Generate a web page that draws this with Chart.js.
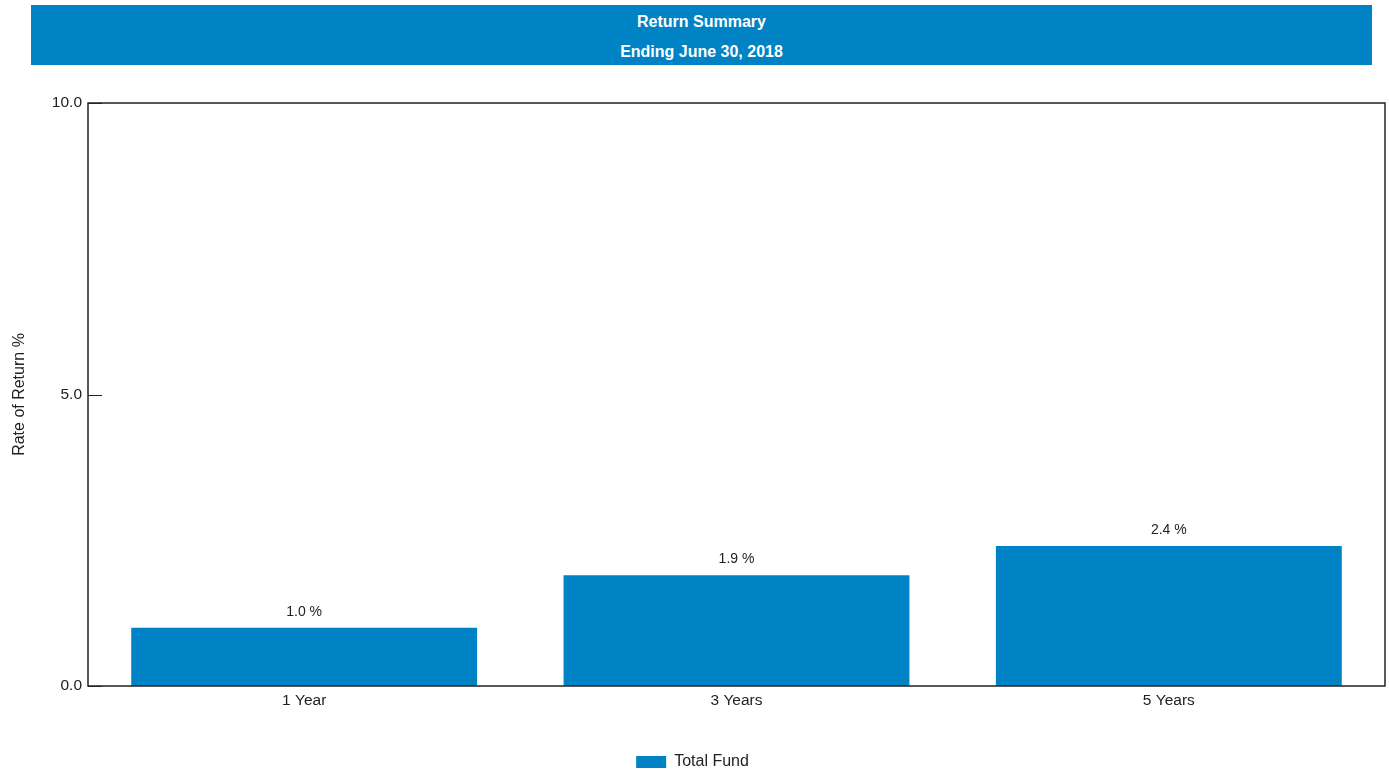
<!DOCTYPE html>
<html>
<head>
<meta charset="utf-8">
<script src="https://cdn.jsdelivr.net/npm/chart.js@4"></script>
<style>
    html, body { margin: 0; padding: 0; background: #fff; }
    #wrap { position: relative; width: 1389px; height: 771px; }
    #band {
        position: absolute; left: 31px; top: 5px; width: 1341px; height: 60px;
        background: #0083c4; color: #fff; text-align: center;
        font-family: "Liberation Sans", Arial, sans-serif; font-weight: bold; font-size: 16px;
    }
    #band div { position: absolute; left: 0; right: 0; }
    canvas { position: absolute; left: 0; top: 0; }
</style>
</head>
<body>
<div id="wrap">
    <canvas id="returnChart" width="1389" height="771"></canvas>
    <div id="band">
        <div style="top:8px;">Return Summary</div>
        <div style="top:38px;">Ending June 30, 2018</div>
    </div>
</div>
<script>
// chart data
const periods = ['1 Year', '3 Years', '5 Years'];
const totalFund = [1.0, 1.9, 2.4];
const yTicks = [0, 5, 10];

const BLUE = '#0083c4';
const FONT = "'Liberation Sans', Arial, sans-serif";

// box round the plot area plus short inward ticks on the y axis
const frameBox = {
    id: 'frameBox',
    afterDraw(chart) {
        const { ctx, chartArea: a } = chart;
        const y = chart.scales.y;
        ctx.save();
        ctx.strokeStyle = '#222';
        ctx.lineWidth = 1.5;
        ctx.strokeRect(a.left, a.top, a.right - a.left, a.bottom - a.top);
        ctx.lineWidth = 1;
        yTicks.forEach(v => {
            const py = Math.round(y.getPixelForValue(v)) + 0.5;
            ctx.beginPath();
            ctx.moveTo(a.left, py);
            ctx.lineTo(a.left + 14, py);
            ctx.stroke();
        });
        ctx.restore();
    }
};

// value labels above each bar
const barLabels = {
    id: 'barLabels',
    afterDatasetsDraw(chart) {
        const { ctx } = chart;
        const meta = chart.getDatasetMeta(0);
        ctx.save();
        ctx.font = '14px ' + FONT;
        ctx.fillStyle = '#222';
        ctx.textAlign = 'center';
        ctx.textBaseline = 'middle';
        meta.data.forEach((bar, i) => {
            ctx.fillText(totalFund[i].toFixed(1) + ' %', bar.x, bar.y - 16);
        });
        ctx.restore();
    }
};

Chart.defaults.font.family = FONT;
Chart.defaults.font.size = 15.5;
Chart.defaults.color = '#222';

new Chart(document.getElementById('returnChart'), {
    type: 'bar',
    data: {
        labels: periods,
        datasets: [{
            label: 'Total Fund',
            data: totalFund,
            backgroundColor: BLUE,
            barPercentage: 0.8,
            categoryPercentage: 1.0
        }]
    },
    options: {
        responsive: false,
        animation: false,
        layout: { padding: { top: 103, right: 4, left: 0, bottom: -9 } },
        plugins: {
            legend: {
                position: 'bottom',
                labels: { boxWidth: 30, boxHeight: 12, padding: 2, font: { size: 16 } }
            },
            tooltip: { enabled: false }
        },
        scales: {
            x: {
                grid: { display: false, drawTicks: false },
                border: { display: false },
                ticks: { padding: 5 },
                afterFit: s => { s.height = 66; }
            },
            y: {
                min: 0,
                max: 10,
                afterBuildTicks: s => { s.ticks = yTicks.map(v => ({ value: v })); },
                ticks: { padding: 6, callback: v => Number(v).toFixed(1) },
                grid: { display: false, drawTicks: false },
                border: { display: false },
                title: { display: true, text: 'Rate of Return %', font: { size: 16 }, padding: { top: 10, bottom: 0 } },
                afterFit: s => { s.width = 88; }
            }
        }
    },
    plugins: [frameBox, barLabels]
});
</script>
</body>
</html>
